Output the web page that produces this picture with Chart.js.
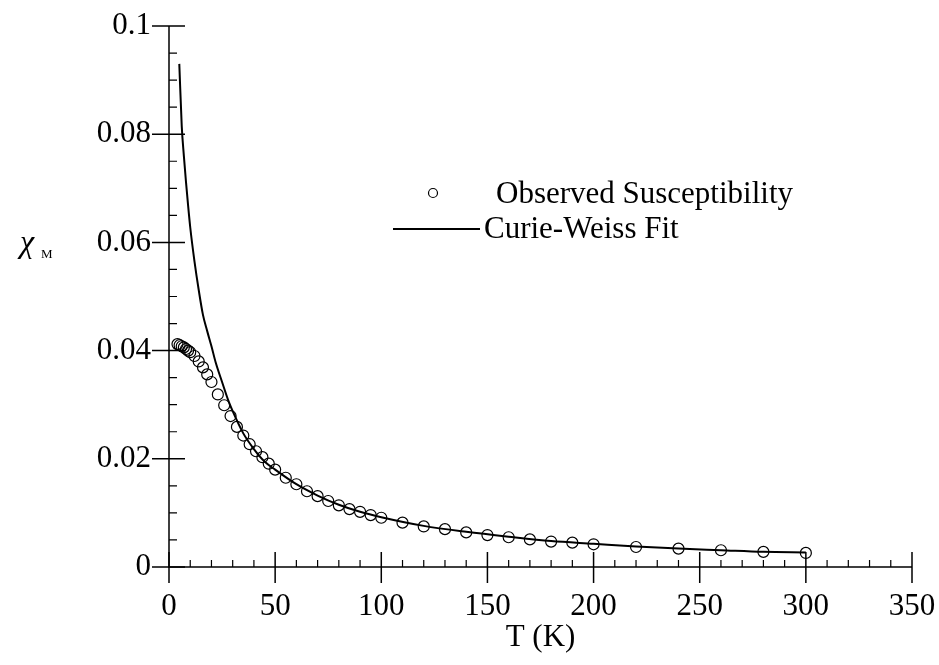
<!DOCTYPE html>
<html>
<head>
<meta charset="utf-8">
<script src="https://cdn.jsdelivr.net/npm/chart.js@4"></script>
<style>
  html, body { margin: 0; padding: 0; background: #fff; }
  #wrap { width: 939px; height: 665px; }
</style>
</head>
<body>
<div id="wrap"><canvas id="chart" width="939" height="665"></canvas></div>
<script>
// observed susceptibility (T in K, chi_M)
const tempObs = [4, 5, 6, 7, 8, 9, 10, 12, 14, 16, 18, 20, 23, 26, 29, 32, 35, 38, 41, 44, 47, 50,
  55, 60, 65, 70, 75, 80, 85, 90, 95, 100, 110, 120, 130, 140, 150, 160, 170, 180, 190, 200,
  220, 240, 260, 280, 300];
const chiObs = [0.0412, 0.0410, 0.0408, 0.0406, 0.0403, 0.0400, 0.0397, 0.0390, 0.0380, 0.0369, 0.0356, 0.0342,
  0.0319, 0.0299, 0.0279, 0.0259, 0.0243, 0.0227, 0.0214, 0.0203, 0.0191, 0.0180,
  0.0165, 0.0153, 0.0140, 0.0131, 0.0122, 0.0114, 0.0107, 0.0102, 0.0096, 0.0091,
  0.0082, 0.0075, 0.0070, 0.0064, 0.0059, 0.0055, 0.0051, 0.0047, 0.0045, 0.0042,
  0.0037, 0.0034, 0.0031, 0.0028, 0.0026];

// Curie-Weiss fit curve
const tempFit = [4.85, 6, 7, 8, 9, 10, 12, 14, 16, 18, 20, 22, 25, 28, 30, 35, 40, 45, 50, 60, 70,
  80, 90, 100, 120, 140, 160, 180, 200, 220, 240, 260, 280, 300];
const chiFit = [0.0930, 0.0815, 0.0760, 0.0712, 0.0668, 0.0628, 0.0565, 0.0512, 0.0466, 0.0436, 0.0408,
  0.0378, 0.0342, 0.0307, 0.0288, 0.0247, 0.0218, 0.0195, 0.0180, 0.0153, 0.0132,
  0.0115, 0.0102, 0.0092, 0.0076, 0.0065, 0.0056, 0.0048, 0.0043, 0.0038, 0.0034,
  0.0031, 0.0028, 0.0027];

const xTicks = [0, 50, 100, 150, 200, 250, 300, 350];
const yTicks = [0, 0.02, 0.04, 0.06, 0.08, 0.1];
const xMinorStep = 10;
const yMinorStep = 0.005;

const legendLabels = ["Observed Susceptibility", "Curie-Weiss Fit"];
const xTitle = "T (K)";
const serif = "'Liberation Serif', 'DejaVu Serif', serif";

const toPoints = (xs, ys) => xs.map((x, i) => ({ x: x, y: ys[i] }));

// axes, ticks, legend and y title drawn by hand
const decorations = {
  id: "decorations",
  afterDraw(chart) {
    const ctx = chart.ctx;
    const xs = chart.scales.x;
    const ys = chart.scales.y;
    const x0 = xs.getPixelForValue(0);
    const y0 = ys.getPixelForValue(0);
    const xEnd = xs.getPixelForValue(350);
    const yEnd = ys.getPixelForValue(0.1);

    ctx.save();
    ctx.strokeStyle = "#000";
    ctx.lineWidth = 1.5;
    ctx.beginPath();
    ctx.moveTo(x0, yEnd);
    ctx.lineTo(x0, y0);
    ctx.lineTo(xEnd, y0);
    ctx.stroke();

    // minor ticks (inside)
    ctx.lineWidth = 1.2;
    ctx.beginPath();
    for (let v = xMinorStep; v < 350; v += xMinorStep) {
      if (v % 50 === 0) continue;
      const px = xs.getPixelForValue(v);
      ctx.moveTo(px, y0);
      ctx.lineTo(px, y0 - 7);
    }
    for (let k = 1; k < 20; k++) {
      if (k % 4 === 0) continue;
      const py = ys.getPixelForValue(k * yMinorStep);
      ctx.moveTo(x0, py);
      ctx.lineTo(x0 + 8, py);
    }
    ctx.stroke();

    // major ticks (crossing)
    ctx.lineWidth = 1.5;
    ctx.beginPath();
    xTicks.forEach((v) => {
      const px = xs.getPixelForValue(v);
      ctx.moveTo(px, y0 - 15);
      ctx.lineTo(px, y0 + 16);
    });
    yTicks.forEach((v) => {
      const py = ys.getPixelForValue(v);
      ctx.moveTo(x0 - 17, py);
      ctx.lineTo(x0 + 16, py);
    });
    ctx.stroke();

    // legend
    ctx.fillStyle = "#000";
    ctx.font = "31px " + serif;
    ctx.textBaseline = "alphabetic";
    ctx.textAlign = "left";
    ctx.lineWidth = 1.2;
    ctx.beginPath();
    ctx.arc(433, 193, 4.5, 0, Math.PI * 2);
    ctx.stroke();
    ctx.fillText(legendLabels[0], 496, 203);
    ctx.lineWidth = 2;
    ctx.beginPath();
    ctx.moveTo(393, 229);
    ctx.lineTo(480, 229);
    ctx.stroke();
    ctx.fillText(legendLabels[1], 484, 238);

    // y title: chi with subscript M
    ctx.font = "italic 32px " + serif;
    ctx.fillText("\u03C7", 20, 252);
    ctx.font = "13px " + serif;
    ctx.fillText("M", 41, 258);

    // x title
    ctx.font = "31px " + serif;
    ctx.textAlign = "center";
    ctx.fillText(xTitle, (x0 + xEnd) / 2, 646);
    ctx.restore();
  }
};

new Chart(document.getElementById("chart"), {
  type: "scatter",
  data: {
    datasets: [
      {
        label: legendLabels[1],
        data: toPoints(tempFit, chiFit),
        showLine: true,
        borderColor: "#000",
        borderWidth: 2,
        pointRadius: 0,
        cubicInterpolationMode: "monotone",
      },
      {
        label: legendLabels[0],
        data: toPoints(tempObs, chiObs),
        borderColor: "#000",
        backgroundColor: "rgba(0,0,0,0)",
        pointRadius: 5.5,
        pointBorderWidth: 1.2,
        showLine: false,
      },
    ],
  },
  options: {
    responsive: false,
    animation: false,
    layout: { padding: { top: 26, right: 27, left: 0, bottom: 0 } },
    plugins: { legend: { display: false }, tooltip: { enabled: false } },
    scales: {
      x: {
        type: "linear",
        min: 0,
        max: 350,
        afterBuildTicks: (scale) => { scale.ticks = xTicks.map((v) => ({ value: v })); },
        afterFit: (scale) => {
          scale.height = 98;
          scale.paddingLeft = 0;
          scale.paddingRight = 0;
        },
        grid: { display: false, drawTicks: false },
        border: { display: false },
        ticks: {
          color: "#000",
          font: { family: serif, size: 31 },
          padding: 21,
          maxRotation: 0,
        },
      },
      y: {
        type: "linear",
        min: 0,
        max: 0.1,
        afterBuildTicks: (scale) => { scale.ticks = yTicks.map((v) => ({ value: v })); },
        afterFit: (scale) => {
          scale.width = 169;
          scale.paddingTop = 0;
          scale.paddingBottom = 0;
        },
        grid: { display: false, drawTicks: false },
        border: { display: false },
        ticks: {
          color: "#000",
          font: { family: serif, size: 31 },
          padding: 18,
          callback: (v) => String(+v.toFixed(3)),
        },
      },
    },
  },
  plugins: [decorations],
});
</script>
</body>
</html>
